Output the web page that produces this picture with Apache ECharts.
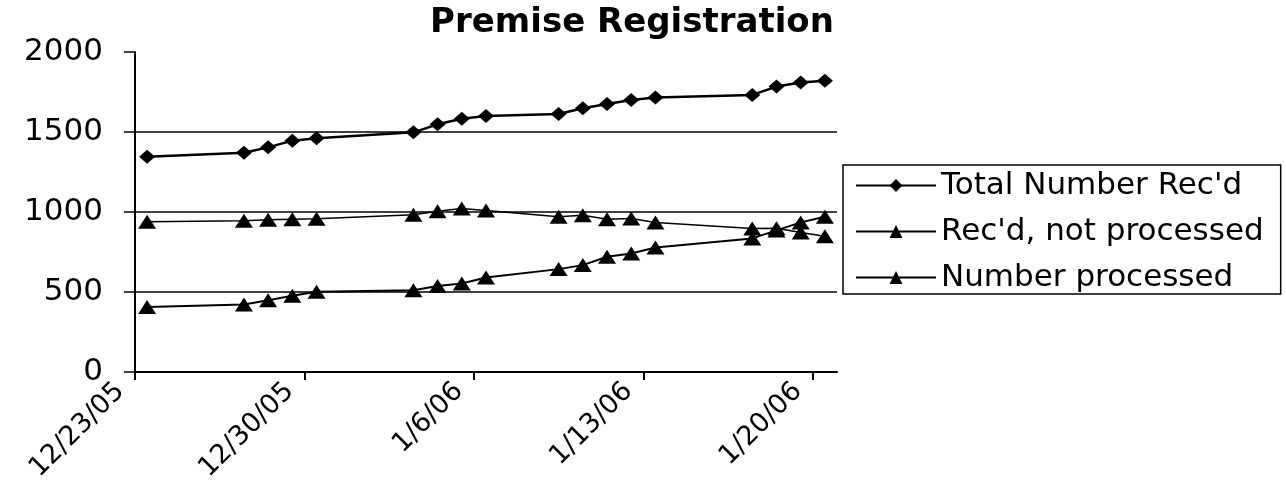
<!DOCTYPE html>
<html>
<head>
<meta charset="utf-8">
<script src="https://cdn.jsdelivr.net/npm/echarts@6/dist/echarts.min.js"></script>
<style>
  html, body { margin: 0; padding: 0; background: #fff; }
  #chart { width: 1286px; height: 490px; }
</style>
</head>
<body>
<div id="chart"></div>
<script>
// dates of each reading (m/d/yy)
const dates = [
  "12/23/05", "12/27/05", "12/28/05", "12/29/05", "12/30/05",
  "1/3/06", "1/4/06", "1/5/06", "1/6/06",
  "1/9/06", "1/10/06", "1/11/06", "1/12/06", "1/13/06",
  "1/17/06", "1/18/06", "1/19/06", "1/20/06"
];
const totalReceived = [1345, 1370, 1404, 1446, 1461, 1498, 1548, 1583, 1600,
  1613, 1648, 1675, 1700, 1715, 1732, 1784, 1809, 1821];
const receivedNotProcessed = [939, 945, 952, 955, 958, 983, 1005, 1022, 1009,
  970, 980, 955, 959, 935, 897, 899, 872, 848];
const numberProcessed = [407, 422, 449, 476, 501, 511, 538, 553, 591,
  643, 668, 720, 741, 778, 835, 885, 935, 970];
const tickDates = ["12/23/05", "12/30/05", "1/6/06", "1/13/06", "1/20/06"];
const yTicks = [0, 500, 1000, 1500, 2000];

const FONT = "DejaVu Sans";
const DAY = 86400000;

function parseDate(s) {
  const [m, d, y] = s.split("/").map(Number);
  return Date.UTC(2000 + y, m - 1, d);
}
const start = parseDate(tickDates[0]);
const dayOf = (s) => (parseDate(s) - start) / DAY;
const labelFor = (v) => {
  const dt = new Date(start + Math.round(v) * DAY);
  return (dt.getUTCMonth() + 1) + "/" + dt.getUTCDate() + "/" +
    String(dt.getUTCFullYear()).slice(2);
};

// excel date axis puts each point in the middle of its day
const toPoints = (vals) => vals.map((v, i) => [dayOf(dates[i]) + 0.5, v]);

const chart = echarts.init(document.getElementById("chart"));

const options = {
  backgroundColor: "#fff",
  animation: false,
  title: {
    text: "Premise Registration",
    left: 627,
    top: 1,
    textAlign: "center",
    textStyle: { fontFamily: FONT, fontSize: 34, fontWeight: "bold", color: "#000" },
  },
  legend: {
    orient: "vertical",
    left: 843,
    top: 165,
    padding: [5, 17, 1, 12],
    itemWidth: 80,
    itemHeight: 16,
    itemGap: 15,
    borderColor: "#000",
    borderWidth: 1.5,
    borderRadius: 0,
    textStyle: { fontFamily: FONT, fontSize: 31, color: "#000" },
    data: ["Total Number Rec'd", "Rec'd, not processed", "Number processed"],
  },
  grid: {
    left: 135, right: 449, top: 52, bottom: 118,
    containLabel: false, outerBoundsMode: "none",
  },
  xAxis: {
    type: "value",
    min: 0,
    max: 29,
    interval: 7,
    axisLine: { show: true, lineStyle: { color: "#000", width: 2 } },
    axisTick: {
      show: true, inside: false, length: 8,
      customValues: tickDates.map(dayOf),
      lineStyle: { color: "#000", width: 2 },
    },
    axisLabel: {
      customValues: tickDates.map(dayOf),
      formatter: (v) => labelFor(v),
      rotate: 45,
      // bottom-aligned slanted text + big margin puts it down-left of the tick
      verticalAlign: "bottom",
      lineHeight: 42,
      margin: 30,
      fontFamily: FONT,
      fontSize: 27,
      color: "#000",
    },
    splitLine: { show: false },
  },
  yAxis: {
    type: "value",
    min: yTicks[0],
    max: yTicks[yTicks.length - 1],
    interval: 500,
    axisLine: { show: true, lineStyle: { color: "#000", width: 2 } },
    axisTick: { show: true, inside: false, length: 11, lineStyle: { color: "#000", width: 1.5 } },
    axisLabel: {
      margin: 32,
      formatter: (v) => String(v),
      fontFamily: FONT,
      fontSize: 31,
      color: "#000",
    },
    splitLine: {
      show: true, showMinLine: false, showMaxLine: false,
      lineStyle: { color: "#000", width: 1.5 },
    },
  },
  series: [
    {
      name: "Total Number Rec'd",
      type: "line",
      data: toPoints(totalReceived),
      symbol: "diamond",
      symbolSize: [16, 14],
      lineStyle: { color: "#000", width: 2.5 },
      itemStyle: { color: "#000" },
    },
    {
      name: "Rec'd, not processed",
      type: "line",
      data: toPoints(receivedNotProcessed),
      symbol: "triangle",
      symbolSize: [18, 14],
      lineStyle: { color: "#000", width: 1.5 },
      itemStyle: { color: "#000" },
    },
    {
      name: "Number processed",
      type: "line",
      data: toPoints(numberProcessed),
      symbol: "triangle",
      symbolSize: [18, 14],
      lineStyle: { color: "#000", width: 2 },
      itemStyle: { color: "#000" },
    },
  ],
};

chart.setOption(options);
</script>
</body>
</html>
